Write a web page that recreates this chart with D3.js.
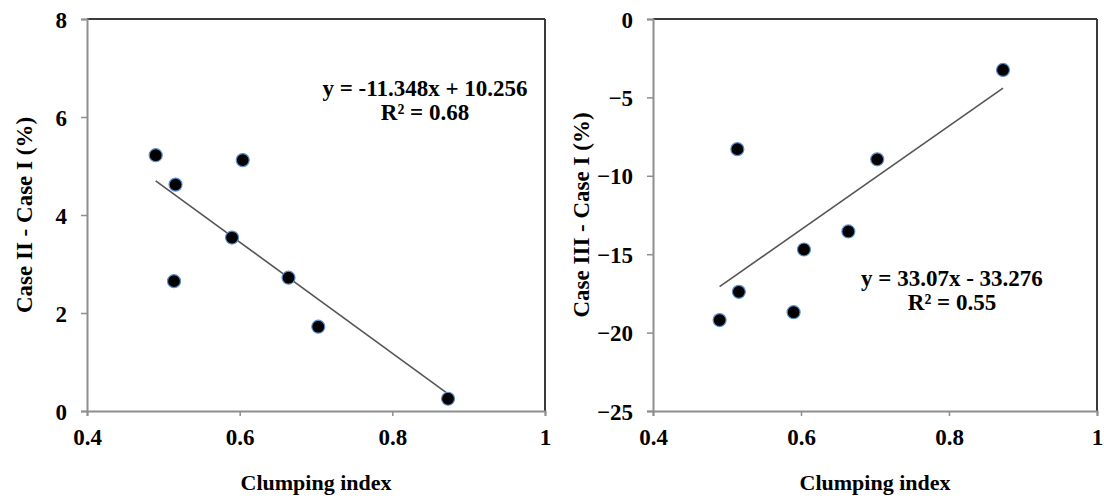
<!DOCTYPE html>
<html>
<head>
<meta charset="utf-8">
<script src="https://cdn.jsdelivr.net/npm/d3@7"></script>
<style>
  html, body { margin: 0; padding: 0; background: #fff; }
  svg { display: block; }
  text { font-family: "Liberation Serif", "Times New Roman", serif; font-weight: bold; fill: #000; }
</style>
</head>
<body>
<svg id="chart" width="1104" height="500"></svg>
<script>
// ---- data ----
const clumpingIndex = [0.49, 0.514, 0.516, 0.59, 0.604, 0.664, 0.703, 0.873];
const case2MinusCase1 = [5.22, 2.65, 4.62, 3.54, 5.12, 2.72, 1.72, 0.25];
const case3MinusCase1 = [-19.2, -8.3, -17.4, -18.7, -14.7, -13.55, -8.95, -3.25];

const xTicks = [0.4, 0.6, 0.8, 1];
const yTicksLeft = [0, 2, 4, 6, 8];
const yTicksRight = [-25, -20, -15, -10, -5, 0];

// trendlines: [slope, intercept]
const trendLeft = [-11.348, 10.256];
const trendRight = [33.07, -33.276];
const trendLabelsLeft = ["y = -11.348x + 10.256", "R² = 0.68"];
const trendLabelsRight = ["y = 33.07x - 33.276", "R² = 0.55"];

const yTitles = ["Case II - Case I (%)", "Case III - Case I (%)"];
const xTitle = "Clumping index";

const svg = d3.select("#chart");

function panel(cfg) {
  const g = svg.append("g");
  const x = d3.scaleLinear().domain([0.4, 1]).range([cfg.x0, cfg.x1]);
  const y = d3.scaleLinear().domain(cfg.yDomain).range([cfg.y1, cfg.y0]);

  // top and right border
  g.append("line").attr("x1", cfg.x0).attr("x2", cfg.x1).attr("y1", cfg.y0).attr("y2", cfg.y0)
    .attr("stroke", "#3a3a3a").attr("stroke-width", 2);
  g.append("line").attr("x1", cfg.x1).attr("x2", cfg.x1).attr("y1", cfg.y0).attr("y2", cfg.y1)
    .attr("stroke", "#3a3a3a").attr("stroke-width", 2);

  // axes
  const xAxis = d3.axisBottom(x).tickValues(xTicks).tickSize(5).tickFormat(d3.format("~g"));
  const yAxis = d3.axisLeft(y).tickValues(cfg.yTicks).tickSize(6).tickFormat(d3.format("~g"));

  const gx = g.append("g").attr("transform", `translate(0,${cfg.y1})`).call(xAxis);
  const gy = g.append("g").attr("transform", `translate(${cfg.x0},0)`).call(yAxis);
  [gx, gy].forEach(a => {
    a.select(".domain").attr("stroke", "#8e8e8e").attr("stroke-width", 2);
    a.selectAll(".tick line").attr("stroke", "#8e8e8e").attr("stroke-width", 1.5);
    a.selectAll("text").attr("font-size", 23).attr("font-family", "Liberation Serif")
      .attr("font-weight", "bold").attr("fill", "#000");
  });
  gx.selectAll("text").attr("y", 34).attr("dy", 0);
  gy.selectAll("text").attr("x", -20).attr("dy", "0.35em");

  // trendline
  const [m, b] = cfg.trend;
  const xs = d3.extent(cfg.xs);
  g.append("line")
    .attr("x1", x(xs[0])).attr("y1", y(m * xs[0] + b))
    .attr("x2", x(xs[1])).attr("y2", y(m * xs[1] + b))
    .attr("stroke", "#555").attr("stroke-width", 1.6);

  // points
  g.selectAll("circle.pt").data(cfg.xs.map((v, i) => [v, cfg.ys[i]])).join("circle")
    .attr("class", "pt")
    .attr("cx", d => x(d[0])).attr("cy", d => y(d[1])).attr("r", 6.5)
    .attr("fill", "#000").attr("stroke", "#5b8fd0").attr("stroke-width", 1.2);

  // equation labels
  cfg.labels.forEach((t, i) => {
    g.append("text").attr("x", cfg.labelX).attr("y", cfg.labelY + i * 24)
      .attr("text-anchor", "middle").attr("font-size", 23).text(t);
  });

  // axis titles
  g.append("text").attr("x", (cfg.x0 + cfg.x1) / 2).attr("y", 490)
    .attr("text-anchor", "middle").attr("font-size", 22).text(xTitle);
  g.append("text")
    .attr("transform", `translate(${cfg.yTitleX},${(cfg.y0 + cfg.y1) / 2}) rotate(-90)`)
    .attr("text-anchor", "middle").attr("font-size", 23).text(cfg.yTitle);
}

panel({
  x0: 87, x1: 545, y0: 19, y1: 411,
  yDomain: [0, 8], yTicks: yTicksLeft,
  xs: clumpingIndex, ys: case2MinusCase1,
  trend: trendLeft, labels: trendLabelsLeft, labelX: 425, labelY: 96,
  yTitle: yTitles[0], yTitleX: 32
});

panel({
  x0: 653, x1: 1097, y0: 19, y1: 411,
  yDomain: [-25, 0], yTicks: yTicksRight,
  xs: clumpingIndex, ys: case3MinusCase1,
  trend: trendRight, labels: trendLabelsRight, labelX: 952, labelY: 286,
  yTitle: yTitles[1], yTitleX: 589
});
</script>
</body>
</html>
